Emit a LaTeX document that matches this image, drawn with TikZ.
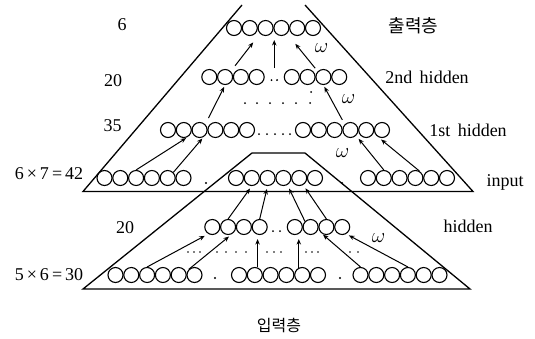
\documentclass[tikz,border=0pt]{standalone}
\usepackage{fontspec}
\setmainfont{Liberation Serif}
\newfontfamily\kofont{Noto Sans CJK KR}
\usetikzlibrary{arrows.meta, positioning, calc}
\tikzset{
    unit/.style={circle, draw=black, line width=1.1pt, minimum size=15pt, inner sep=0pt},
    arrow/.style={-{Stealth[length=5.5pt, width=4.5pt]}, line width=1pt, draw=black},
    layerline/.style={line width=1.3pt, draw=black},
    lbl/.style={font=\fontsize{18}{20}\selectfont, inner sep=0pt},
    kolbl/.style={font=\kofont\fontsize{18}{20}\selectfont, inner sep=0pt},
    wlbl/.style={font=\fontsize{20}{22}\selectfont, inner sep=0pt}
}

\begin{document}
\begin{tikzpicture}[x=1pt, y=-1pt]
    \useasboundingbox (0,0) rectangle (535,338);
    \draw[layerline] (242,5) -- (83,191.5) -- (473,191.5) -- (305,5);
    \draw[layerline] (83,289) -- (252,153) -- (305,153) -- (470,289) -- cycle;

    \foreach \k in {1,...,6} {
        \node[unit] (out\k) at ({234+(\k-1)*15.8},28) {};
        \node[unit] (fsta\k) at ({168+(\k-1)*15.8},130) {};
        \node[unit] (fstb\k) at ({303+(\k-1)*15.8},130) {};
        \node[unit] (inpa\k) at ({104.5+(\k-1)*15.8},178) {};
        \node[unit] (inpb\k) at ({236+(\k-1)*15.8},178) {};
        \node[unit] (inpc\k) at ({368+(\k-1)*15.8},178) {};
        \node[unit] (basa\k) at ({115.5+(\k-1)*15.8},275) {};
        \node[unit] (basb\k) at ({239+(\k-1)*15.8},275) {};
        \node[unit] (basc\k) at ({360.5+(\k-1)*15.8},275) {};
    }
    \foreach \k in {1,...,4} {
        \node[unit] (seca\k) at ({209.3+(\k-1)*15.8},77) {};
        \node[unit] (secb\k) at ({291.8+(\k-1)*15.8},77) {};
        \node[unit] (lowa\k) at ({212.3+(\k-1)*15.8},227) {};
        \node[unit] (lowb\k) at ({294.8+(\k-1)*15.8},227) {};
    }

    \foreach \x in {271.5,277} \fill (\x,80) circle (1pt);
    \foreach \x in {245,257,270,283,296,310} \fill (\x,103) circle (1pt);
    \fill (311,92) circle (1pt);
    \foreach \x in {259,267,275,283,290} \fill (\x,134) circle (1pt);
    \foreach \x in {206,342} \fill (\x,183) circle (1.2pt);
    \foreach \x in {273,280} \fill (\x,231) circle (1pt);
    \foreach \x in {188,194,200,217,226,236,246,267,274,281,306,312,318,350,358}
        \fill (\x,252) circle (0.9pt);
    \foreach \x in {215,340} \fill (\x,278) circle (1.2pt);

    \coordinate (secgap) at ($(seca4)!.5!(secb1)$);

    \draw[arrow, shorten <=7pt, shorten >=11pt] (seca2.north east) -- (out3.south west);
    \draw[arrow, shorten <=9pt, shorten >=4pt] (secgap) -- (secgap |- out3.south);
    \draw[arrow, shorten <=4pt, shorten >=13pt] (secb3.north west) -- (out4.south east);
    \draw[arrow, shorten <=7pt, shorten >=2pt] (fsta3.north east) -- (seca2.south);
    \draw[arrow, shorten <=5pt, shorten >=2pt] (fstb4.north west) -- (secb3.south);
    \draw[arrow, shorten >=2pt] (inpa3.north) -- (fsta2.-60);
    \draw[arrow, shorten >=2pt] (inpa5.north east) -- (fsta3.-60);
    \draw[arrow, shorten >=4pt] (inpc2.north) -- (fstb4.-45);
    \draw[arrow, shorten >=4pt] (inpc4.60) -- (fstb6.-120);
    \draw[arrow, shorten >=3pt] (lowa2.north) -- (inpb2.south);
    \draw[arrow, shorten >=3pt] (lowa4.north) -- (inpb3.south);
    \draw[arrow, shorten >=4pt] (lowb2.north west) -- (inpb4.-60);
    \draw[arrow, shorten >=4pt] (lowb3.north) -- (inpb5.-60);
    \draw[arrow, shorten >=4pt] (basa3.north) -- (lowa1.-120);
    \draw[arrow, shorten >=4pt] (basa6.north west) -- (lowa2.-60);
    \draw[arrow, shorten >=4pt] (basb2.70) -- (basb2.70 |- lowa4.south);
    \draw[arrow, shorten >=4pt] (basb5.115) -- (basb5.115 |- lowb1.south);
    \draw[arrow, shorten >=3pt] (basc1.north) -- (lowb3.-135);
    \draw[arrow, shorten >=3pt] (basc4.north) -- (lowb4.-60);

    \node[wlbl] (w1) at (321.5,48) {$\omega$};
    \node[wlbl] (w2) at (348.5,99) {$\omega$};
    \node[wlbl] (w3) at (342.5,153) {$\omega$};
    \node[wlbl] (w4) at (378.5,238.5) {$\omega$};

    \node[lbl] (n6) at (122,25) {6};
    \node[lbl] (n20) at (113,81) {20};
    \node[lbl] (n35) at (112.5,126) {35};
    \node[lbl] (n42) at (49,174) {6\,×\,7\,=\,42};
    \node[lbl] (n20low) at (125,228) {20};
    \node[lbl] (n30) at (49,275) {5\,×\,6\,=\,30};

    \node[kolbl] (outname) at (413.5,25.5) {출력층};
    \node[lbl] (secname) at (427,77) {2nd\, hidden};
    \node[lbl] (fstname) at (468,130) {1st\, hidden};
    \node[lbl] (inpname) at (505,182) {input};
    \node[lbl] (lowname) at (468,226) {hidden};
    \node[kolbl, font=\kofont\fontsize{16}{18}\selectfont] (basname) at (279,325) {입력층};
\end{tikzpicture}
\end{document}
